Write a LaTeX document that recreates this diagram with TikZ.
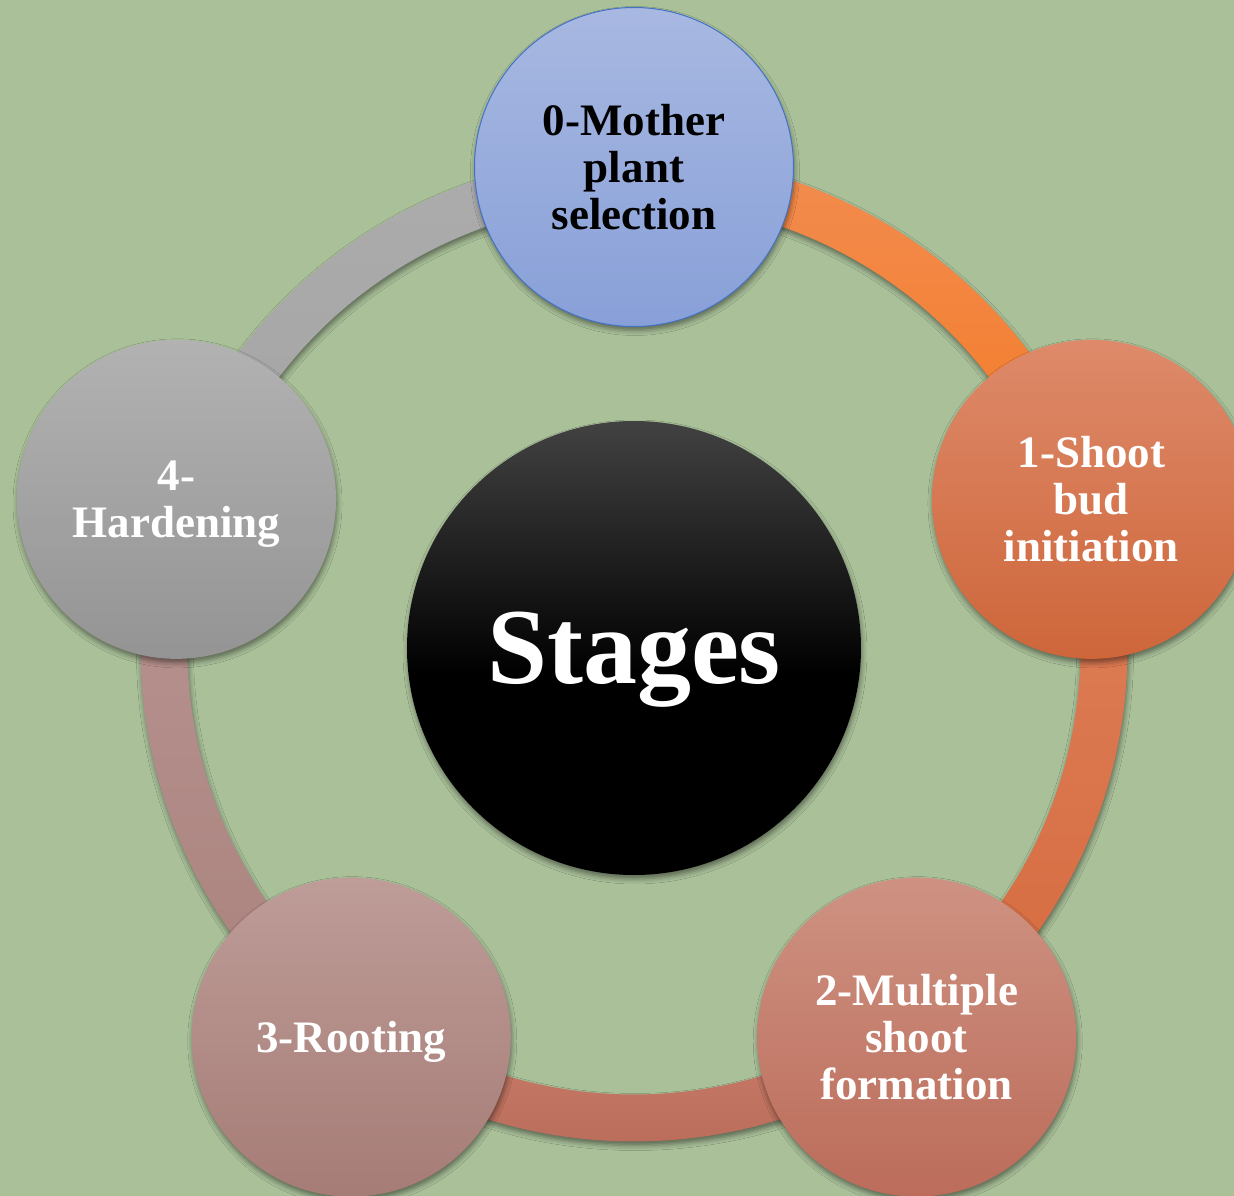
\documentclass[tikz,border=0pt]{standalone}
\usepackage{fontspec}
\setmainfont{Liberation Serif}
\usepackage{tikz}
\usetikzlibrary{shadows.blur}
\definecolor{bggreen}{RGB}{169,192,153}
\definecolor{edgeblue}{RGB}{68,114,196}
\definecolor{ringa}{RGB}{242,140,80}
\definecolor{ringA}{RGB}{244,122,36}
\definecolor{ringb}{RGB}{222,128,90}
\definecolor{ringB}{RGB}{214,106,62}
\definecolor{ringc}{RGB}{202,126,106}
\definecolor{ringC}{RGB}{184,106,88}
\definecolor{ringd}{RGB}{184,148,145}
\definecolor{ringD}{RGB}{170,130,125}
\definecolor{ringe}{RGB}{172,172,172}
\definecolor{ringE}{RGB}{164,164,164}
\definecolor{zerotop}{RGB}{168,184,225}
\definecolor{zerobot}{RGB}{136,160,216}
\definecolor{onetop}{RGB}{222,138,106}
\definecolor{onebot}{RGB}{206,102,58}
\definecolor{twotop}{RGB}{206,146,130}
\definecolor{twobot}{RGB}{188,108,90}
\definecolor{threetop}{RGB}{190,156,152}
\definecolor{threebot}{RGB}{166,124,118}
\definecolor{fourtop}{RGB}{178,178,178}
\definecolor{fourbot}{RGB}{148,148,148}
\definecolor{hubtop}{RGB}{66,66,66}
\pgfdeclareverticalshading{hubshade}{100bp}{color(0bp)=(black); color(47bp)=(black); color(75bp)=(hubtop); color(100bp)=(hubtop)}
\newcommand{\ringseg}[4]{%
  \shade[top color=#3, bottom color=#4, softshadow]
    (#1:493.5) arc[start angle=#1, end angle=#2, radius=493.5]
    -- (#2:446.5) arc[start angle=#2, end angle=#1, radius=446.5] -- cycle;}

\begin{document}
\begin{tikzpicture}[x=1pt,y=1pt,
  softshadow/.style={blur shadow={shadow xshift=1pt, shadow yshift=-4pt,
    shadow blur radius=5pt, shadow opacity=45}},
  stage/.style={circle, minimum size=319pt, inner sep=0pt, align=center,
    text=white, text depth=0pt, softshadow,
    font=\fontsize{45}{47}\selectfont\bfseries},
  hubnode/.style={circle, minimum size=454pt, inner sep=0pt, softshadow,
    shading=hubshade, text=white, text depth=0pt,
    font=\fontsize{108}{110}\selectfont\bfseries}]
	\useasboundingbox (-634,-548) rectangle (600,648);
	\clip (-634,-548) rectangle (600,648);
	\fill[bggreen] (-634,-548) rectangle (600,648);

	% ring between the stages
	\ringseg{90}{18}{ringa}{ringA}
	\ringseg{18}{-54}{ringb}{ringB}
	\ringseg{-54}{-126}{ringc}{ringC}
	\ringseg{-126}{-198}{ringd}{ringD}
	\ringseg{162}{90}{ringe}{ringE}

	\node[hubnode] (hub) at (0,0) {Stages};
	\node[stage, top color=zerotop, bottom color=zerobot, draw=edgeblue, line width=1pt, text=black] (s_0) at (90:481) {0-Mother\\plant\\selection};
	\node[stage, top color=onetop, bottom color=onebot] (s_1) at (18:481) {1-Shoot\\bud\\initiation};
	\node[stage, top color=twotop, bottom color=twobot] (s_2) at (-54:481) {2-Multiple\\shoot\\formation};
	\node[stage, top color=threetop, bottom color=threebot] (s_3) at (-126:481) {3-Rooting};
	\node[stage, top color=fourtop, bottom color=fourbot] (s_4) at (162:481) {4-\\Hardening};
\end{tikzpicture}
\end{document}
